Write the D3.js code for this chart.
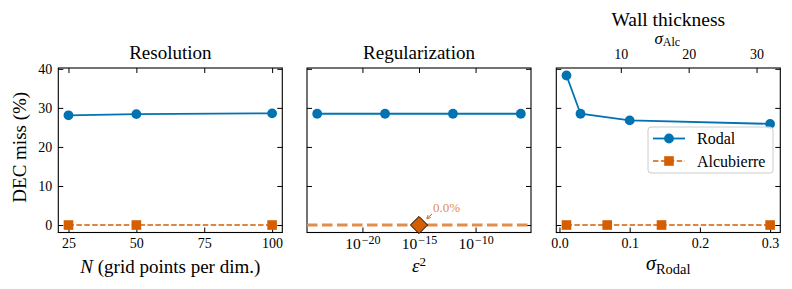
<!DOCTYPE html>
<html><head><meta charset="utf-8">
<script src="https://cdn.jsdelivr.net/npm/d3@7"></script>
<style>
body{margin:0;background:#fff}
svg text{font-family:'Liberation Serif','DejaVu Serif','Noto Serif',serif !important;fill:#000}
</style>
</head><body>
<svg id="c" width="792" height="289"></svg>
<script>
// ---- data ----
const resN = [25, 50, 100];
const resRodal = [28.1, 28.4, 28.6];
const resAlc = [0, 0, 0];

const regEps = [1e-24, 1e-18, 1e-12, 1e-6];
const regRodal = [28.5, 28.5, 28.5, 28.5];
const regAlcEps = [1e-15];
const regAlc = [0];
const regAlcLabel = "0.0%";

const wallSigmaRodal = [0.01, 0.03, 0.1, 0.3];
const wallRodal = [38.3, 28.5, 26.8, 25.9];
const wallSigmaAlc = [2, 8, 16, 32];
const wallAlc = [0, 0, 0, 0];

const yTicks = [0, 10, 20, 30, 40];
const resTicks = [25, 50, 75, 100];
const regTicks = [1e-20, 1e-15, 1e-10];
const wallTicks = [0, 0.1, 0.2, 0.3];
const wallTopTicks = [10, 20, 30];
const titles = ["Resolution", "Regularization", "Wall thickness"];
const seriesNames = ["Rodal", "Alcubierre"];

// ---- styles ----
const BLUE = "#0173b2", ORANGE = "#d55e00", LORANGE = "#e18e4c";
const TOP = 68, BOT = 232.5, W = 224;
const lefts = [58.3, 307, 556.3];

const svg = d3.select("#c");
const y = d3.scaleLinear().domain([-1.915, 40.215]).range([BOT, TOP]);

const x1 = d3.scaleLinear().domain([21.25, 103.75]).range([lefts[0], lefts[0] + W]);
const x2 = d3.scaleLog().domain([10 ** -24.9, 10 ** -5.1]).range([lefts[1], lefts[1] + W]);
const x3 = d3.scaleLinear().domain([-0.0045, 0.3145]).range([lefts[2], lefts[2] + W]);
const x3top = d3.scaleLinear().domain([0.5, 33.5]).range([lefts[2], lefts[2] + W]);

function frame(i, xb, xt, bTicks, tTicks, bFmt, showY) {
  const g = svg.append("g");
  const L = lefts[i];
  const ab = g.append("g").attr("transform", `translate(0,${BOT})`)
    .call(d3.axisBottom(xb).tickValues(bTicks).tickSize(-5).tickPadding(5.5).tickFormat(bFmt));
  const at = g.append("g").attr("transform", `translate(0,${TOP})`)
    .call(d3.axisTop(xt).tickValues(tTicks).tickSize(-5).tickPadding(9)
      .tickFormat(xt === xb ? () => "" : d3.format("d")));
  const al = g.append("g").attr("transform", `translate(${L},0)`)
    .call(d3.axisLeft(y).tickValues(yTicks).tickSize(-5).tickPadding(6)
      .tickFormat(showY ? d3.format("d") : () => ""));
  const ar = g.append("g").attr("transform", `translate(${L + W},0)`)
    .call(d3.axisRight(y).tickValues(yTicks).tickSize(-5).tickFormat(() => ""));
  [ab, at, al, ar].forEach(a => {
    a.attr("font-family", null).attr("font-size", null);
    a.select(".domain").remove();
    a.selectAll(".tick line").attr("stroke", "#000").attr("stroke-width", 1);
    a.selectAll(".tick text").attr("font-size", 14).attr("fill", "#000");
  });
  g.append("rect").attr("x", L).attr("y", TOP).attr("width", W).attr("height", BOT - TOP)
    .attr("fill", "none").attr("stroke", "#000").attr("stroke-width", 1.1);
  return { g, ab };
}

function line(g, xs, xv, yv, color, dash, lw) {
  const pts = xv.map((v, k) => [xs(v), y(yv[k])]);
  g.append("path").attr("d", d3.line()(pts)).attr("fill", "none")
    .attr("stroke", color).attr("stroke-width", lw).attr("stroke-dasharray", dash);
  return pts;
}
function circles(g, pts) {
  g.selectAll(null).data(pts).enter().append("circle")
    .attr("cx", d => d[0]).attr("cy", d => d[1]).attr("r", 4.9).attr("fill", BLUE);
}
function squares(g, pts) {
  const s = 9.6;
  g.selectAll(null).data(pts).enter().append("rect")
    .attr("x", d => d[0] - s / 2).attr("y", d => d[1] - s / 2).attr("width", s).attr("height", s)
    .attr("fill", ORANGE);
}

// ---- panel 1 ----
{
  const { g } = frame(0, x1, x1, resTicks, resTicks, d3.format("d"), true);
  const pa = line(g, x1, resN, resAlc, ORANGE, "5.5,2.4", 1.5);
  squares(g, pa);
  const pr = line(g, x1, resN, resRodal, BLUE, null, 1.8);
  circles(g, pr);
}
// ---- panel 2 ----
{
  const { g, ab } = frame(1, x2, x2, regTicks, regTicks, d => "10", false);
  ab.selectAll(".tick text").each(function (d) {
    const t = d3.select(this);
    t.text(null).attr("font-size", 15.5);
    t.append("tspan").text("10");
    t.append("tspan").attr("dy", "-0.42em").attr("dx", 1).attr("font-size", 12).text("−" + Math.round(-Math.log10(d)));
  });
  const pr = line(g, x2, regEps, regRodal, BLUE, null, 1.8);
  circles(g, pr);
  g.append("line").attr("x1", lefts[1]).attr("x2", lefts[1] + W)
    .attr("y1", y(regAlc[0])).attr("y2", y(regAlc[0]))
    .attr("stroke", LORANGE).attr("stroke-width", 3).attr("stroke-dasharray", "10.5,4.5");
  const cx = x2(regAlcEps[0]), cy = y(regAlc[0]);
  const dd = 8.6;
  g.append("path").attr("d", `M${cx},${cy - dd}L${cx + dd},${cy}L${cx},${cy + dd}L${cx - dd},${cy}Z`)
    .attr("fill", ORANGE).attr("stroke", "#000").attr("stroke-width", 1);
  g.append("defs").append("marker").attr("id", "ah").attr("viewBox", "0 0 10 10")
    .attr("refX", 9).attr("refY", 5).attr("markerWidth", 4).attr("markerHeight", 4).attr("orient", "auto")
    .append("path").attr("d", "M0,0L10,5L0,10").attr("fill", "none").attr("stroke", ORANGE).attr("stroke-width", 2);
  g.append("line").attr("x1", cx + 13).attr("y1", cy - 11).attr("x2", cx + 8).attr("y2", cy - 6.5)
    .attr("stroke", ORANGE).attr("stroke-width", 1).attr("marker-end", "url(#ah)");
  g.append("text").attr("x", cx + 14).attr("y", cy - 13).attr("font-size", 13)
    .style("fill", LORANGE).text(regAlcLabel);
}
// ---- panel 3 ----
{
  const { g } = frame(2, x3, x3top, wallTicks, wallTopTicks, d3.format(".1f"), false);
  const pa = line(g, x3top, wallSigmaAlc, wallAlc, ORANGE, "5.5,2.4", 1.5);
  squares(g, pa);
  const pr = line(g, x3, wallSigmaRodal, wallRodal, BLUE, null, 1.8);
  circles(g, pr);
  const lg = svg.append("g");
  lg.append("rect").attr("x", 648).attr("y", 127).attr("width", 125).attr("height", 46).attr("rx", 3)
    .attr("fill", "#fff").attr("fill-opacity", 0.8).attr("stroke", "#cccccc").attr("stroke-width", 1);
  const ly = [138.5, 161];
  lg.append("line").attr("x1", 653).attr("x2", 685).attr("y1", ly[0]).attr("y2", ly[0]).attr("stroke", BLUE).attr("stroke-width", 1.8);
  lg.append("circle").attr("cx", 669).attr("cy", ly[0]).attr("r", 4.9).attr("fill", BLUE);
  lg.append("line").attr("x1", 653).attr("x2", 685).attr("y1", ly[1]).attr("y2", ly[1]).attr("stroke", ORANGE)
    .attr("stroke-width", 1.5).attr("stroke-dasharray", "5.5,2.4");
  lg.append("rect").attr("x", 669 - 4.8).attr("y", ly[1] - 4.8).attr("width", 9.6).attr("height", 9.6).attr("fill", ORANGE);
  seriesNames.forEach((n, k) => lg.append("text").attr("x", 697).attr("y", ly[k]).attr("dy", "0.35em")
    .attr("font-size", 16).text(n));
}

// ---- titles and labels ----
const cxs = lefts.map(l => l + W / 2);
svg.append("text").attr("x", cxs[0]).attr("y", 59).attr("text-anchor", "middle").attr("font-size", 19).text(titles[0]);
svg.append("text").attr("x", cxs[1]).attr("y", 59).attr("text-anchor", "middle").attr("font-size", 19).text(titles[1]);
svg.append("text").attr("x", cxs[2]).attr("y", 25.5).attr("text-anchor", "middle").attr("font-size", 19.5).text(titles[2]);

{
  const t = svg.append("text").attr("x", cxs[2] - 1).attr("y", 43.5).attr("text-anchor", "middle").attr("font-size", 17);
  t.append("tspan").attr("font-style", "italic").text("σ");
  t.append("tspan").attr("dy", "0.2em").attr("font-size", 12).text("Alc");
}
{
  const t = svg.append("text").attr("x", cxs[0]).attr("y", 273).attr("text-anchor", "middle").attr("font-size", 19);
  t.append("tspan").attr("font-style", "italic").text("N");
  t.append("tspan").text(" (grid points per dim.)");
}
{
  const t = svg.append("text").attr("x", cxs[1]).attr("y", 272).attr("text-anchor", "middle").attr("font-size", 19);
  t.append("tspan").attr("font-style", "italic").text("ε");
  t.append("tspan").attr("dy", "-0.45em").attr("font-size", 13).text("2");
}
{
  const t = svg.append("text").attr("x", cxs[2]).attr("y", 270).attr("text-anchor", "middle").attr("font-size", 20);
  t.append("tspan").attr("font-style", "italic").text("σ");
  t.append("tspan").attr("dy", "0.3em").attr("font-size", 14.5).text("Rodal");
}
svg.append("text").attr("transform", `translate(26,${(TOP + BOT) / 2 - 3}) rotate(-90)`)
  .attr("text-anchor", "middle").attr("font-size", 19).text("DEC miss (%)");
</script>
</body></html>
